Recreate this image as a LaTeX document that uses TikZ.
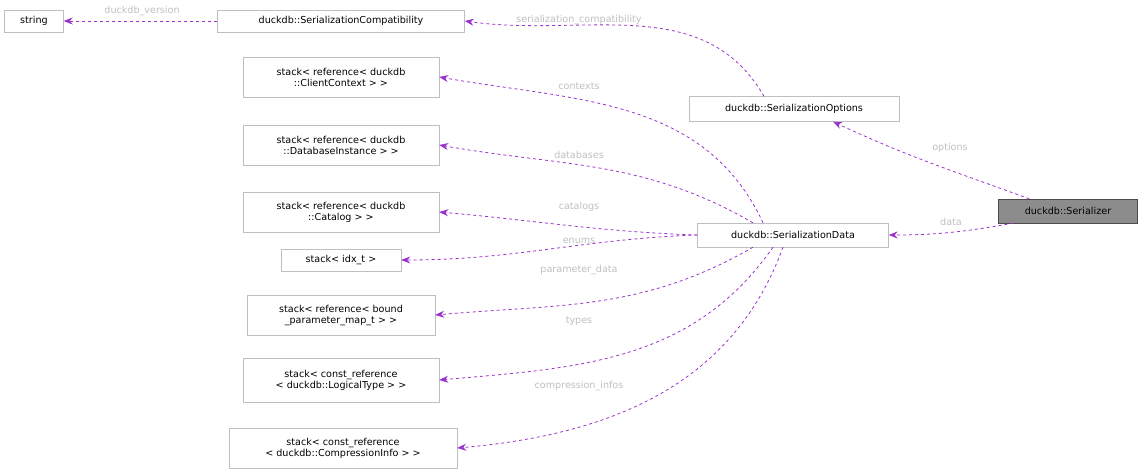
\documentclass[tikz,border=0pt]{standalone}
\usepackage{fontspec}
\setmainfont{DejaVu Sans}
\usetikzlibrary{arrows.meta}
\definecolor{colorEdge}{RGB}{154,50,205}
\definecolor{colorBox}{RGB}{191,191,191}
\definecolor{colorLbl}{RGB}{191,191,191}
\tikzset{
  cls/.style={rectangle, draw=colorBox, fill=white, inner sep=2pt, align=center, font=\fontsize{9.6}{11}\selectfont},
  focus/.style={cls, draw=black!70, fill=black!45},
  edge/.style={draw=colorEdge, dashed, line width=0.8pt, -{Stealth[length=9pt,width=7pt]}},
  lbl/.style={text=colorLbl, font=\fontsize{9.6}{11}\selectfont, inner sep=1pt}
}
\begin{document}
\begin{tikzpicture}[x=1pt,y=-1pt]
  \useasboundingbox (0,0) rectangle (1144,473);

  % nodes
  \node (str)[cls, minimum width=59pt, minimum height=22pt] at (34,21) {string};
  \node (compat)[cls, minimum width=247pt, minimum height=22pt] at (341,21) {duckdb::SerializationCompatibility};
  \node (ctx)[cls, minimum width=196pt, minimum height=40pt] at (341,77) {stack< reference< duckdb\\::ClientContext > >};
  \node (db)[cls, minimum width=196pt, minimum height=40pt] at (341,145) {stack< reference< duckdb\\::DatabaseInstance > >};
  \node (cat)[cls, minimum width=196pt, minimum height=40pt] at (341,212) {stack< reference< duckdb\\::Catalog > >};
  \node (idx)[cls, minimum width=120pt, minimum height=22pt] at (341,260) {stack< idx\_t >};
  \node (param)[cls, minimum width=188pt, minimum height=40pt] at (341,315) {stack< reference< bound\\\_parameter\_map\_t > >};
  \node (ltype)[cls, minimum width=196pt, minimum height=44pt] at (341,380) {stack< const\_reference\\< duckdb::LogicalType > >};
  \node (cinfo)[cls, minimum width=228pt, minimum height=40pt] at (343,448) {stack< const\_reference\\< duckdb::CompressionInfo > >};
  \node (opts)[cls, minimum width=210pt, minimum height=25pt] at (794,109) {duckdb::SerializationOptions};
  \node (sdata)[cls, minimum width=191pt, minimum height=24pt] at (793,235) {duckdb::SerializationData};
  \node (ser)[focus, minimum width=139pt, minimum height=24pt] at (1068,211) {duckdb::Serializer};

  % lines and arrows
  \draw[edge] ([xshift=15pt]ser.south west) to[out=190, in=0] (sdata.east);
  \draw[edge] ([xshift=31pt]ser.north west) to[out=160, in=-25] ([xshift=39pt]opts.south);
  \draw[edge] ([xshift=-30pt]opts.north) to[out=120, in=-8] (compat.east);
  \draw[edge] (compat.west) -- (str.east);
  \draw[edge] ([xshift=-30pt]sdata.north) to[out=115, in=-10] (ctx.east);
  \draw[edge] ([xshift=-40pt]sdata.north) to[out=150, in=-10] (db.east);
  \draw[edge] (sdata.west) to[out=178, in=-5] (cat.east);
  \draw[edge] (sdata.west) to[out=182, in=0] (idx.east);
  \draw[edge] ([xshift=-40pt]sdata.south) to[out=210, in=5] (param.east);
  \draw[edge] ([xshift=-20pt]sdata.south) to[out=235, in=5] (ltype.east);
  \draw[edge] ([xshift=-10pt]sdata.south) to[out=250, in=5] (cinfo.east);

  % labels
  \node (lData)[lbl] at (951,222) {data};
  \node (lOpts)[lbl] at (950,148) {options};
  \node (lCompat)[lbl] at (579,20) {serialization\_compatibility};
  \node (lVer)[lbl] at (142,11) {duckdb\_version};
  \node (lCtx)[lbl] at (579,86) {contexts};
  \node (lDb)[lbl] at (579,155) {databases};
  \node (lCat)[lbl] at (579,207) {catalogs};
  \node (lEnum)[lbl] at (579,241) {enums};
  \node (lParam)[lbl] at (579,270) {parameter\_data};
  \node (lTypes)[lbl] at (579,321) {types};
  \node (lComp)[lbl] at (579,386) {compression\_infos};
\end{tikzpicture}
\end{document}
